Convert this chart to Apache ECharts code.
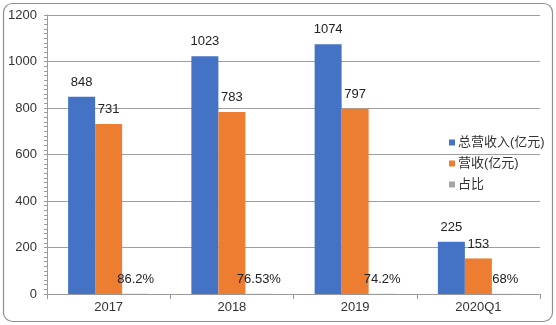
<!DOCTYPE html>
<html>
<head>
<meta charset="utf-8">
<script src="https://cdn.jsdelivr.net/npm/echarts@6/dist/echarts.min.js"></script>
<style>
html,body{margin:0;padding:0;background:#fff;}
#c{width:556px;height:325px;}
</style>
</head>
<body>
<div id="c"></div>
<script>
const categories = ['2017', '2018', '2019', '2020Q1'];
const totalRevenue = [848, 1023, 1074, 225];
const revenue = [731, 783, 797, 153];
const ratioPercent = [86.2, 76.53, 74.2, 68];
const yTicks = [0, 200, 400, 600, 800, 1000, 1200];

const FONT = '"Liberation Sans", "Noto Sans CJK SC", sans-serif';
const chart = echarts.init(document.getElementById('c'), null, {renderer: 'canvas'});
chart.setOption({
  animation: false,
  backgroundColor: '#fff',
  textStyle: {fontFamily: FONT},
  graphic: [{
    type: 'rect',
    shape: {x: 3.5, y: 3.5, width: 549, height: 318, r: 9},
    style: {fill: 'none', stroke: '#8f8f8f', lineWidth: 1.2},
    silent: true, z: -1
  }],
  legend: {
    orient: 'vertical',
    left: 444,
    top: 131,
    itemWidth: 6,
    itemHeight: 6,
    itemGap: 8,
    icon: 'rect',
    textStyle: {fontSize: 13, color: '#333', fontFamily: FONT, padding: [0, 0, 0, -2]},
    data: ['总营收入(亿元)', '营收(亿元)', '占比']
  },
  grid: {left: 47, right: 16, top: 15, bottom: 31, containLabel: false},
  xAxis: {
    type: 'category',
    data: categories,
    axisLine: {lineStyle: {color: '#9a9a9a'}},
    axisTick: {show: true, length: 5, lineStyle: {color: '#9a9a9a'}},
    axisLabel: {fontSize: 13, color: '#333', margin: 7, fontFamily: FONT}
  },
  yAxis: {
    type: 'value',
    min: yTicks[0],
    max: yTicks[yTicks.length - 1],
    interval: 200,
    axisLine: {show: true, lineStyle: {color: '#9a9a9a'}},
    axisTick: {show: true, length: 3, lineStyle: {color: '#9a9a9a'}},
    minorTick: {show: true, splitNumber: 10, length: 3, lineStyle: {color: '#9a9a9a'}},
    splitLine: {lineStyle: {color: '#9e9e9e'}},
    axisLabel: {fontSize: 13, color: '#333', margin: 10, fontFamily: FONT, formatter: v => String(v)}
  },
  series: [
    {
      name: '总营收入(亿元)', type: 'bar', data: totalRevenue,
      barWidth: 27, barGap: '0%',
      itemStyle: {color: '#4472C4'},
      label: {show: true, position: 'top', distance: 8, fontSize: 13, color: '#222', fontFamily: FONT}
    },
    {
      name: '营收(亿元)', type: 'bar', data: revenue,
      barWidth: 27, barGap: '0%',
      itemStyle: {color: '#ED7D31'},
      label: {show: true, position: 'top', distance: 8, fontSize: 13, color: '#222', fontFamily: FONT}
    },
    {
      name: '占比', type: 'bar', data: ratioPercent.map(v => v / 100),
      barWidth: 27, barGap: '0%',
      itemStyle: {color: '#A5A5A5'},
      label: {
        show: true, position: 'top', distance: 8, fontSize: 13, color: '#222', fontFamily: FONT,
        formatter: p => ratioPercent[p.dataIndex] + '%'
      }
    }
  ]
});
</script>
</body>
</html>
